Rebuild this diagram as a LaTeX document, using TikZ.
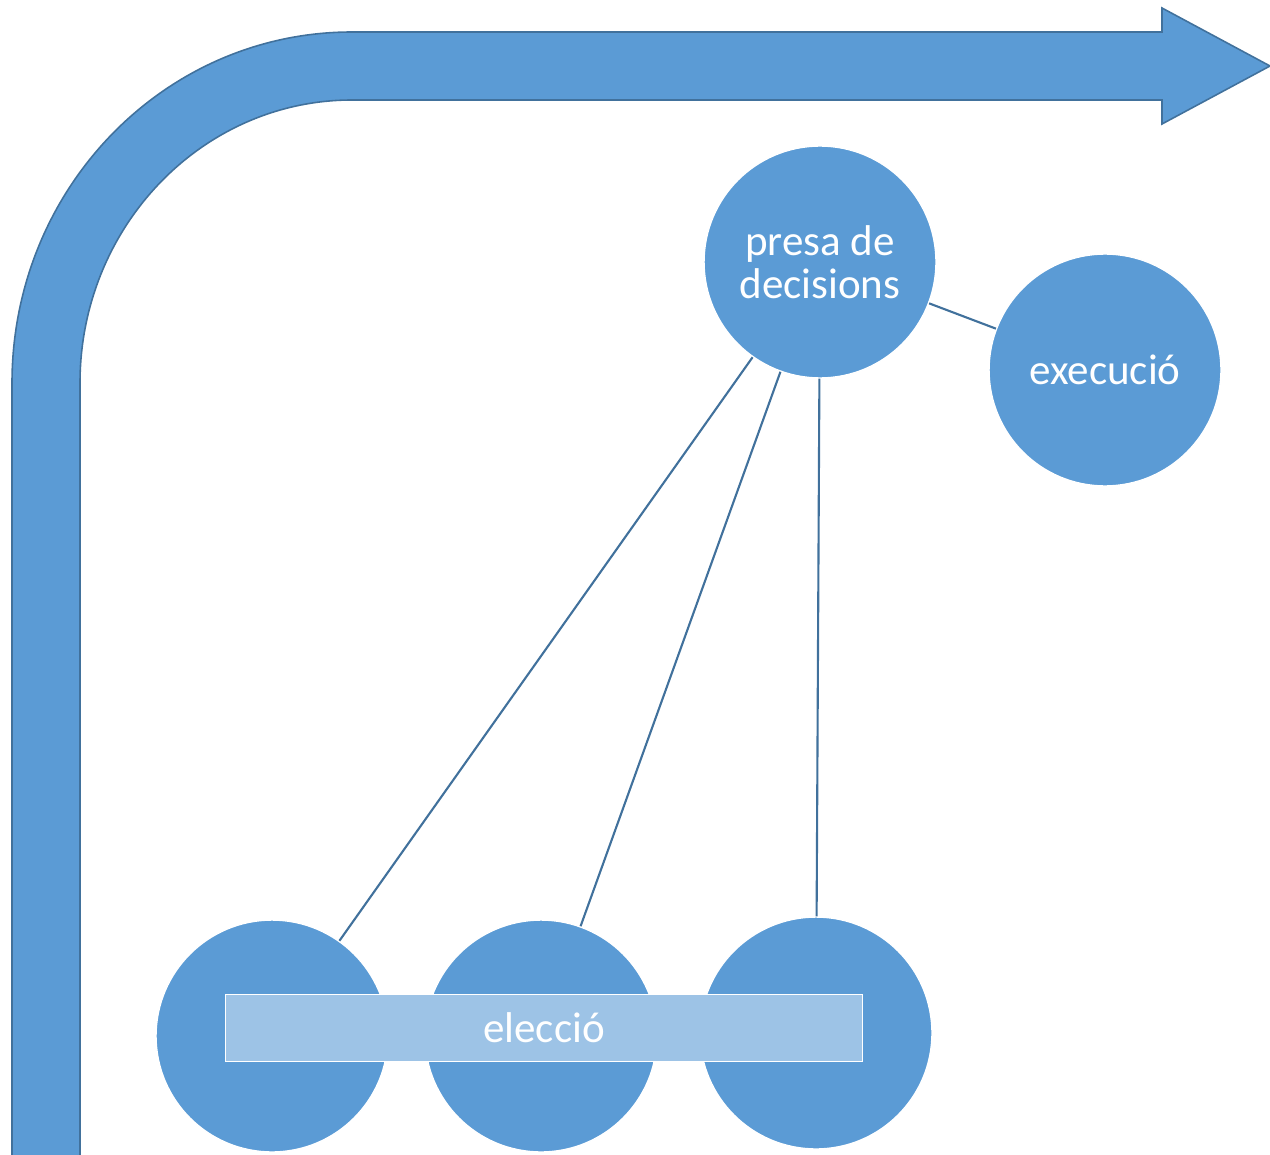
\documentclass[tikz,border=0pt]{standalone}
\usepackage{fontspec}
\setmainfont{Carlito}
\definecolor{mainblue}{HTML}{5B9BD5}
\definecolor{darkblue}{HTML}{41719C}
\definecolor{lightblue}{HTML}{9DC3E6}
\begin{document}
\begin{tikzpicture}[x=0.02cm,y=-0.02cm,
  bubble/.style={circle,fill=mainblue,draw=white,line width=0.8pt,minimum size=4.64cm,inner sep=0pt,
    text=white,font=\fontsize{24.5}{24.5}\selectfont,align=center},
  link/.style={draw=darkblue,line width=1.2pt},
  bandbox/.style={rectangle,fill=lightblue,draw=white,line width=0.5pt,minimum width=12.74cm,minimum height=1.34cm,
    inner sep=0pt,text=white,font=\fontsize{24.5}{24.5}\selectfont}]
\useasboundingbox (0,0) rectangle (1270,1155);
% big bent arrow
\path[fill=mainblue,draw=darkblue,line width=0.9pt]
  (12,1175) -- (12,383) .. controls (12,189) and (164,32) .. (352,32)
  -- (1162,32) -- (1162,8) -- (1270,66) -- (1162,124) -- (1162,100)
  -- (352,100) .. controls (202,100) and (80,227) .. (80,383)
  -- (80,1175) -- cycle;
% circles
\node[bubble] (p) at (820,262) {presa de\\decisions};
\node[bubble] (e) at (1105,370) {execució};
\node[bubble] (c1) at (272,1036) {};
\node[bubble] (c2) at (541,1036) {};
\node[bubble] (c3) at (816,1033) {};
\node[bandbox] (el) at (544,1028) {elecció};
% connectors
\draw[link] (p) -- (e);
\draw[link] (p) -- (c1);
\draw[link] (p) -- (c2);
\draw[link] (p) -- (c3);
\end{tikzpicture}
\end{document}
